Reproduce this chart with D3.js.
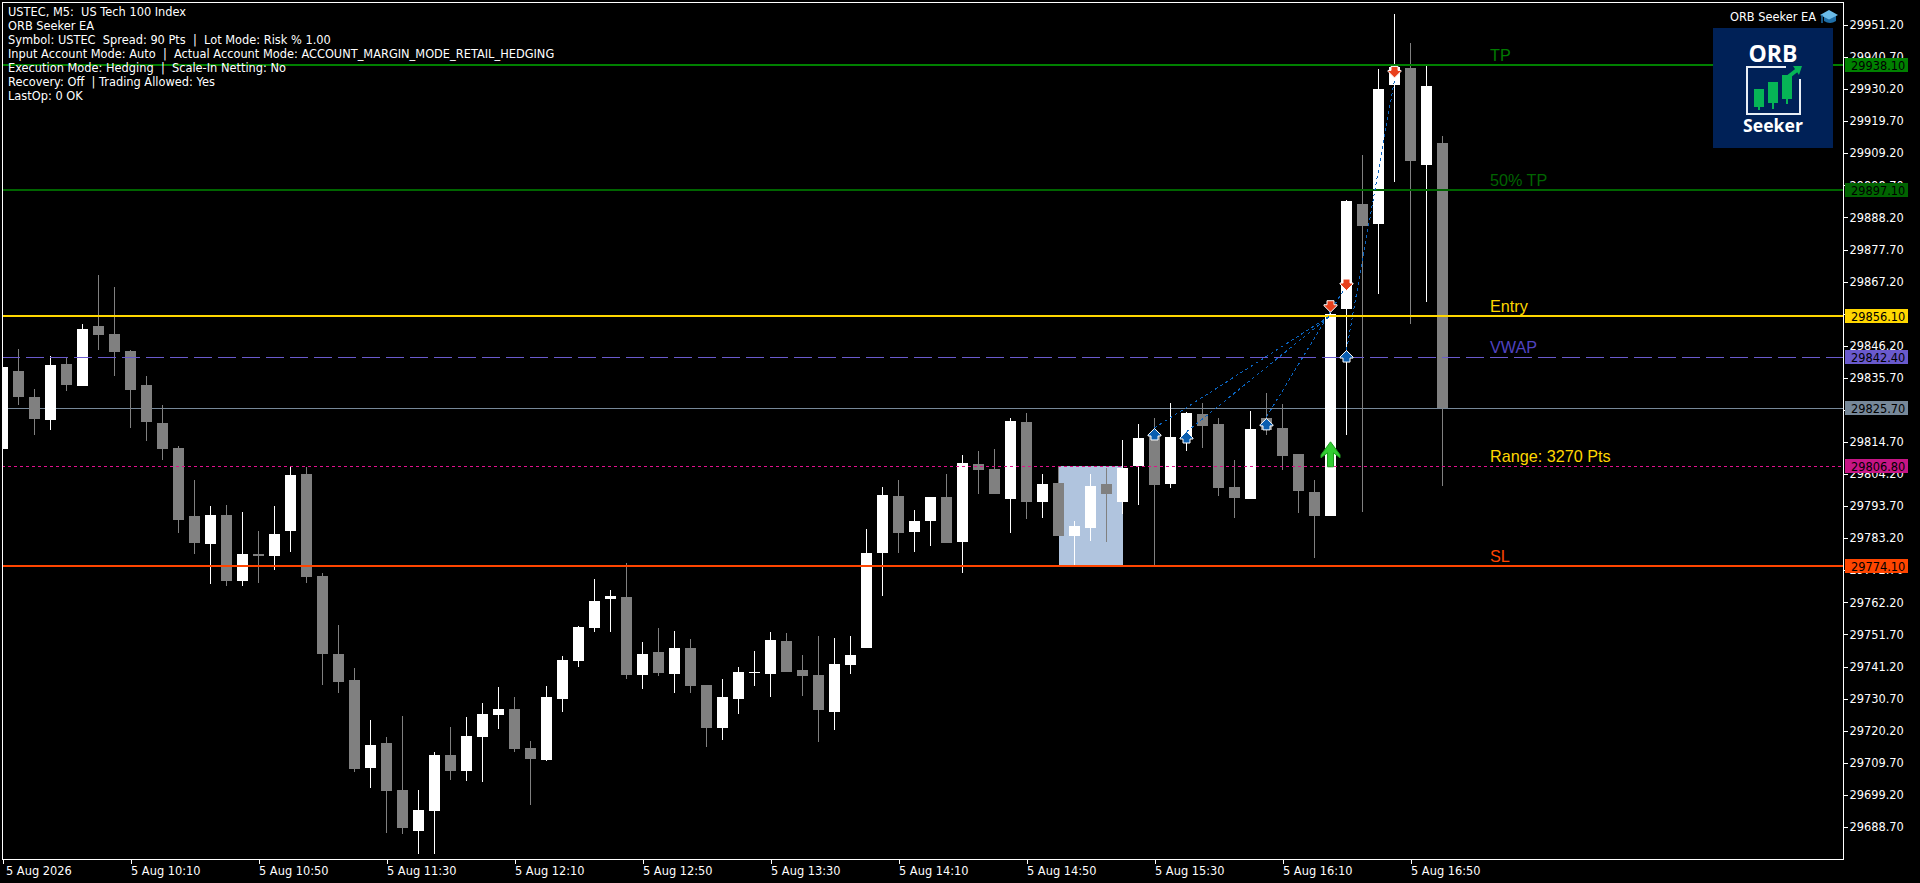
<!DOCTYPE html>
<html><head><meta charset="utf-8">
<script src="https://cdn.jsdelivr.net/npm/d3@7/dist/d3.min.js"></script>
<style>
html,body{margin:0;padding:0;background:#000;overflow:hidden}
svg{display:block}
.ui{font-family:"DejaVu Sans",sans-serif;font-size:11.4px}
.big{font-family:"Liberation Sans",Arial,sans-serif;font-size:16.2px}
</style></head><body>
<svg id="chart" width="1920" height="883"></svg>
<script>
const opens=[29812.4,29837.9,29829.4,29821.9,29840.2,29833.0,29852.7,29850.1,29844.5,29833.4,29820.9,29812.7,29790.5,29781.3,29790.8,29769.2,29778.0,29777.4,29785.6,29804.2,29770.9,29745.3,29736.8,29708.0,29716.2,29700.8,29687.4,29693.9,29712.3,29707.0,29718.2,29725.4,29727.3,29714.6,29710.6,29730.6,29743.0,29753.8,29763.3,29764.0,29738.4,29746.0,29738.8,29747.3,29735.2,29721.1,29730.6,29739.1,29738.8,29749.6,29740.1,29738.4,29726.3,29741.7,29747.3,29778.4,29797.0,29785.3,29788.9,29796.7,29782.0,29807.5,29805.9,29796.0,29821.3,29795.1,29801.3,29783.9,29786.6,29801.0,29795.1,29806.9,29816.7,29801.0,29816.3,29823.9,29820.6,29800.0,29796.0,29822.6,29819.3,29810.8,29798.3,29790.5,29858.2,29892.6,29886.1,29931.6,29937.1,29905.4,29912.6];
const highs=[29839.3,29845.1,29832.1,29842.9,29842.5,29853.3,29869.4,29865.4,29844.8,29836.3,29826.8,29813.4,29802.3,29793.8,29794.1,29791.8,29785.6,29793.8,29806.9,29806.5,29771.8,29754.8,29740.7,29723.7,29718.2,29725.0,29700.8,29713.2,29721.4,29724.7,29729.3,29734.5,29731.2,29716.8,29734.8,29744.7,29754.5,29769.9,29766.3,29775.1,29749.2,29753.8,29752.8,29750.2,29735.2,29737.1,29741.1,29746.3,29752.5,29752.2,29745.0,29751.2,29750.6,29751.2,29786.2,29800.0,29802.3,29792.4,29796.7,29804.2,29810.5,29811.8,29812.4,29822.6,29824.2,29804.2,29806.9,29788.9,29804.2,29806.2,29815.4,29820.6,29822.6,29827.5,29824.5,29827.5,29822.6,29808.8,29824.9,29830.7,29827.1,29810.8,29802.3,29857.6,29893.9,29908.6,29936.8,29954.8,29945.3,29937.8,29914.9];
const lows=[29812.4,29826.8,29817.0,29818.6,29831.4,29833.0,29844.8,29836.3,29819.3,29815.0,29808.8,29784.9,29778.0,29768.2,29767.6,29767.6,29768.6,29772.8,29778.7,29768.6,29735.2,29732.6,29706.7,29701.5,29686.7,29686.4,29679.9,29679.9,29704.1,29703.8,29703.4,29720.8,29713.2,29695.9,29710.3,29726.3,29741.1,29752.5,29752.5,29737.1,29733.9,29738.1,29732.6,29732.6,29714.9,29717.2,29725.7,29734.8,29731.2,29739.4,29731.6,29716.5,29720.4,29738.8,29747.3,29764.3,29778.4,29778.7,29780.7,29781.7,29771.8,29797.7,29797.7,29784.9,29789.5,29789.8,29783.9,29774.4,29782.3,29782.0,29791.1,29794.1,29774.4,29799.6,29811.8,29812.7,29797.0,29789.8,29796.0,29817.0,29805.5,29791.5,29776.7,29790.5,29817.0,29791.8,29863.1,29899.8,29853.3,29860.5,29800.3];
const closes=[29839.3,29829.4,29822.2,29839.9,29833.4,29851.7,29849.7,29844.2,29831.7,29821.3,29812.4,29789.2,29781.7,29790.8,29769.2,29778.0,29777.4,29784.6,29803.9,29770.5,29745.3,29736.2,29707.7,29715.5,29700.5,29688.4,29694.3,29712.3,29707.0,29718.5,29725.7,29727.3,29714.2,29711.0,29731.2,29743.4,29754.2,29762.7,29764.3,29738.4,29745.3,29739.1,29747.3,29734.8,29721.1,29731.2,29739.4,29739.4,29749.9,29739.4,29738.1,29727.0,29742.0,29745.0,29778.4,29797.4,29784.9,29788.9,29796.7,29781.7,29807.8,29805.5,29797.7,29821.6,29795.1,29801.0,29783.9,29787.2,29800.3,29797.7,29806.2,29816.0,29800.6,29816.3,29824.2,29819.9,29799.6,29796.4,29819.0,29818.6,29810.1,29798.7,29790.5,29856.6,29893.6,29885.4,29930.2,29937.4,29906.7,29931.2,29825.7];

const priceTicks=[29951.2,29940.7,29930.2,29919.7,29909.2,29898.7,29888.2,29877.7,29867.2,29856.7,29846.2,29835.7,29825.2,29814.7,29804.2,29793.7,29783.2,29772.7,29762.2,29751.7,29741.2,29730.7,29720.2,29709.7,29699.2,29688.7];
const timeTickBars=[0,8,16,24,32,40,48,56,64,72,80,88];
const timeTickLabels=["5 Aug 2026","5 Aug 10:10","5 Aug 10:50","5 Aug 11:30","5 Aug 12:10","5 Aug 12:50","5 Aug 13:30","5 Aug 14:10","5 Aug 14:50","5 Aug 15:30","5 Aug 16:10","5 Aug 16:50"];

const levelNames=["TP","50% TP","Entry","VWAP","Range: 3270 Pts","SL"];
const levelPrices=[29938.1,29897.1,29856.1,29842.4,29806.8,29774.1];
const levelLineColors=["#008000","#006400","#FFD700","#6A5ACD","#E0118C","#FF4500"];
const tagFillColors=["#008000","#006400","#FFD700","#6A5ACD","#C71585","#FF4500"];
const levelTextColors=["#007a00","#006400","#FFD700","#5043C0","#FFD700","#FF4500"];
const lastPrice=29825.7;
const rangeBars=[66,70];
const rangePrices=[29806.8,29774.1];

const buyBars=[72,74,79,84];
const buyPrices=[29817.0,29816.0,29820.3,29842.5];
const sellBars=[83,84,87];
const sellPrices=[29859.3,29866.4,29936.0];
const signalBar=83;
const signalPrice=29810.5;
const tradeFromBars=[72,74,79,84];
const tradeFromPrices=[29819.3,29818.0,29822.9,29844.8];
const tradeToBars=[83,83,84,87];
const tradeToPrices=[29856.1,29856.1,29866.0,29933.2];

const infoLines=["USTEC, M5:  US Tech 100 Index","ORB Seeker EA","Symbol: USTEC  Spread: 90 Pts  |  Lot Mode: Risk % 1.00","Input Account Mode: Auto  |  Actual Account Mode: ACCOUNT_MARGIN_MODE_RETAIL_HEDGING","Execution Mode: Hedging  |  Scale-In Netting: No","Recovery: Off  | Trading Allowed: Yes","LastOp: 0 OK"];

const L=2,T=2,R=1843,B=859;
const svg=d3.select("#chart");
const x=d3.scaleLinear().domain([0,90]).range([2.5,1442.5]);
const y=d3.scaleLinear().domain([29958.72,29678.2]).range([2,859]);
const fmt=d3.format(".2f");

svg.append("defs").append("clipPath").attr("id","plot").append("rect")
  .attr("x",L).attr("y",T).attr("width",R-L).attr("height",B-T);

const plot=svg.append("g").attr("clip-path","url(#plot)");

// last price line sits under the candles
plot.append("line").attr("x1",L).attr("x2",R)
  .attr("y1",Math.round(y(lastPrice))+.5).attr("y2",Math.round(y(lastPrice))+.5)
  .attr("stroke","#778899").attr("stroke-width",1);

// opening range box
plot.append("rect").attr("x",x(rangeBars[0])).attr("width",x(rangeBars[1])-x(rangeBars[0]))
  .attr("y",y(rangePrices[0])).attr("height",y(rangePrices[1])-y(rangePrices[0]))
  .attr("fill","#B0C4DE").attr("shape-rendering","crispEdges");

// logo
const logo=svg.append("g");
logo.append("rect").attr("x",1713).attr("y",28).attr("width",120).attr("height",120).attr("fill","#002157");
logo.append("text").attr("x",1773).attr("y",62).attr("text-anchor","middle").attr("fill","#fff")
  .attr("font-family","'Open Sans'").attr("font-weight",700).attr("font-size",23).text("ORB");
logo.append("text").attr("x",1773).attr("y",132).attr("text-anchor","middle").attr("fill","#fff")
  .attr("font-family","'Open Sans'").attr("font-weight",700).attr("font-size",17.6).text("Seeker");
logo.append("path").attr("d","M1786 67H1747V114H1800V79").attr("fill","none").attr("stroke","#e8eef5").attr("stroke-width",2);
[[1754,89,10,18,110],[1768,82,10,21,109],[1782,75,10,24,104]].forEach(c=>{
  logo.append("rect").attr("x",c[0]).attr("y",c[1]).attr("width",c[2]).attr("height",c[3]).attr("fill","#06B556");
  logo.append("rect").attr("x",c[0]+4).attr("y",c[1]).attr("width",2).attr("height",c[4]-c[1]).attr("fill","#06B556");
});
logo.append("path").attr("d","M1788 77L1797 70").attr("stroke","#06B556").attr("stroke-width",4).attr("fill","none");
logo.append("path").attr("d","M1793 66H1802L1799 75Z").attr("fill","#06B556");

// info text
svg.append("g").selectAll("text").data(infoLines).join("text").attr("class","ui")
  .attr("x",8).attr("y",(d,i)=>16+14*i).attr("fill","#fff").attr("xml:space","preserve")
  .style("white-space","pre").text(d=>d);

// candles
const idx=d3.range(opens.length);
const col=i=>closes[i]>=opens[i]?"#FFFFFF":"#808080";
const candles=plot.append("g").attr("shape-rendering","crispEdges");
candles.selectAll("line").data(idx).join("line")
  .attr("x1",i=>x(i)).attr("x2",i=>x(i)).attr("y1",i=>y(highs[i])).attr("y2",i=>y(lows[i]))
  .attr("stroke",col).attr("stroke-width",1);
candles.selectAll("rect").data(idx).join("rect")
  .attr("x",i=>x(i)-5.5).attr("width",11)
  .attr("y",i=>y(Math.max(opens[i],closes[i])))
  .attr("height",i=>Math.max(1,Math.abs(y(opens[i])-y(closes[i]))))
  .attr("fill",col);

// level lines, over the candles
const dash=["none","none","none","18 6","3 3","none"];
const widths=[2,2,2,1,1,2];
plot.append("g").selectAll("line").data(levelPrices).join("line")
  .attr("x1",L).attr("x2",R)
  .attr("y1",(d,i)=>widths[i]===1?Math.round(y(d))+.5:Math.round(y(d)))
  .attr("y2",(d,i)=>widths[i]===1?Math.round(y(d))+.5:Math.round(y(d)))
  .attr("stroke",(d,i)=>levelLineColors[i]).attr("stroke-width",(d,i)=>widths[i])
  .attr("stroke-dasharray",(d,i)=>dash[i]);

// trade connectors
plot.append("g").attr("shape-rendering","crispEdges").selectAll("line").data(tradeFromBars).join("line")
  .attr("x1",d=>x(d)).attr("y1",(d,i)=>y(tradeFromPrices[i]))
  .attr("x2",(d,i)=>x(tradeToBars[i])).attr("y2",(d,i)=>y(tradeToPrices[i]))
  .attr("stroke","#0A64C0").attr("stroke-width",1).attr("stroke-dasharray","3 3");

// arrows
const arrowUp="M0 -6.5L6.5 0V1H3.5V5H-3.5V1H-6.5V0Z";
const arrowDown="M0 6.5L6.5 0V-1H3.5V-5H-3.5V-1H-6.5V0Z";
const markers=plot.append("g");
markers.selectAll("path.buy").data(buyBars).join("path").attr("class","buy")
  .attr("d",arrowUp).attr("transform",(d,i)=>`translate(${x(d)},${y(buyPrices[i])})`)
  .attr("fill","#0A5EB0").attr("stroke","#fff").attr("stroke-width",1);
markers.selectAll("path.sell").data(sellBars).join("path").attr("class","sell")
  .attr("d",arrowDown).attr("transform",(d,i)=>`translate(${x(d)},${y(sellPrices[i])})`)
  .attr("fill","#E8401C").attr("stroke","#fff").attr("stroke-width",1);
markers.append("path")
  .attr("d","M0 -13L9.5 0V3L3 -2V12H-3V-2L-9.5 3V0Z")
  .attr("transform",`translate(${x(signalBar)},${y(signalPrice)})`)
  .attr("fill","#32CD32").attr("stroke","#1f9e1f").attr("stroke-width",1);

// level text
svg.append("g").selectAll("text").data(levelNames).join("text").attr("class","big")
  .attr("x",1490).attr("y",(d,i)=>y(levelPrices[i])-4).attr("fill",(d,i)=>levelTextColors[i]).text(d=>d);

// EA name and cap
svg.append("text").attr("class","ui").attr("x",1816).attr("y",21).attr("text-anchor","end").attr("fill","#fff").text("ORB Seeker EA");
const cap=svg.append("g");
cap.append("path").attr("d","M1824 16V21Q1830 25 1836 21V16Z").attr("fill","#1F6FA8");
cap.append("path").attr("d","M1820 15L1829 10L1838 15L1829 19.5Z").attr("fill","#6BBBE8");
cap.append("path").attr("d","M1822 15V23").attr("stroke","#1F6FA8").attr("stroke-width",1.5);

// frame
svg.append("rect").attr("x",L+.5).attr("y",T+.5).attr("width",R-L).attr("height",B-T)
  .attr("fill","none").attr("stroke","#fff").attr("stroke-width",1).attr("shape-rendering","crispEdges");

// axes
const yAxis=d3.axisRight(y).tickValues(priceTicks).tickSize(4).tickPadding(2).tickFormat(fmt);
const gy=svg.append("g").attr("class","ui").attr("transform",`translate(${R+.5},0)`).call(yAxis);
gy.select(".domain").remove();
gy.selectAll("text").attr("class","ui").attr("fill","#fff").style("font-size","11.4px");
gy.selectAll("line").attr("stroke","#fff").attr("shape-rendering","crispEdges");

const xAxis=d3.axisBottom(x).tickValues(timeTickBars).tickSize(4).tickPadding(3).tickFormat((d,i)=>timeTickLabels[i]);
const gx=svg.append("g").attr("class","ui").attr("transform",`translate(0,${B+.5})`).call(xAxis);
gx.select(".domain").remove();
gx.selectAll("text").attr("class","ui").attr("fill","#fff").attr("text-anchor","start").style("font-size","11.4px")
  .attr("dx",(d,i)=>i===0?3:0);
gx.selectAll("line").attr("stroke","#fff").attr("shape-rendering","crispEdges");

// price tags
const tagPrices=[...levelPrices,lastPrice];
const tagColors=[...tagFillColors,"#778899"];
const tags=svg.append("g").selectAll("g").data(tagPrices).join("g")
  .attr("transform",d=>`translate(1845,${Math.round(y(d))})`);
tags.append("rect").attr("y",-7).attr("width",63).attr("height",14).attr("fill",(d,i)=>tagColors[i]);
tags.append("text").attr("class","ui").attr("x",6).attr("y",4.5).attr("fill","#000").text(d=>fmt(d));
</script>
</body></html>
